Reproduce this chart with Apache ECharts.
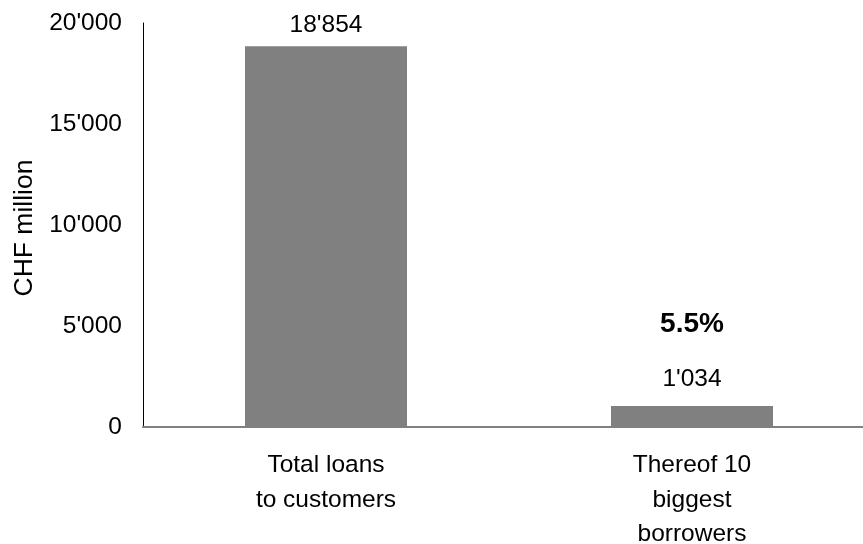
<!DOCTYPE html>
<html><head><meta charset="utf-8">
<script src="https://cdn.jsdelivr.net/npm/echarts@6/dist/echarts.min.js"></script>
<style>html,body{margin:0;padding:0;background:#fff}#c{width:863px;height:544px}</style>
</head><body><div id="c"></div>
<script>
const categories = ["Total loans\nto customers", "Thereof 10\nbiggest\nborrowers"];
const values = [18854, 1034];
const shareLabels = ["", "5.5%"];
const yTicks = { min: 0, max: 20000, interval: 5000 };

function fmt(v){ return String(Math.round(v)).replace(/\B(?=(\d{3})+(?!\d))/g, "'"); }

const chart = echarts.init(document.getElementById('c'), null, {renderer:'canvas'});
const F = 'Liberation Sans, Arial, sans-serif';
chart.setOption({
  animation:false,
  grid:{left:143, top:23, width:732, height:404, containLabel:false, outerBoundsMode:'none'},
  xAxis:{type:'category', data:categories,
    axisLine:{show:true, lineStyle:{color:'#808080', width:2}},
    axisTick:{show:false},
    axisLabel:{color:'#000', fontFamily:F, fontSize:24.5, lineHeight:34.5, margin:21}
  },
  yAxis:{type:'value', min:yTicks.min, max:yTicks.max, interval:yTicks.interval,
    name:'CHF million', nameLocation:'middle', nameGap:104, nameRotate:90,
    nameTextStyle:{color:'#000', fontFamily:F, fontSize:26.5, padding:[0,6,0,0]},
    axisLine:{show:true, lineStyle:{color:'#000', width:1}},
    axisTick:{show:false}, splitLine:{show:false},
    axisLabel:{color:'#000', fontFamily:F, fontSize:24.5, margin:21, formatter:fmt}
  },
  series:[{type:'bar', barWidth:162,
    itemStyle:{color:'#808080'},
    data:values.map((v,i)=>({value:v, label:{show:true, position:'top', distance: shareLabels[i] ? 14 : 8,
      formatter: p => shareLabels[i] ? '{p|'+shareLabels[i]+'}\n{g|}\n{n|'+fmt(p.value)+'}' : '{n|'+fmt(p.value)+'}',
      rich:{p:{fontFamily:F, fontSize:28, fontWeight:'bold', color:'#000', lineHeight:30},
            g:{height:27},
            n:{fontFamily:F, fontSize:24.5, color:'#000', lineHeight:26}}
    }}))
  }]
});
</script></body></html>
